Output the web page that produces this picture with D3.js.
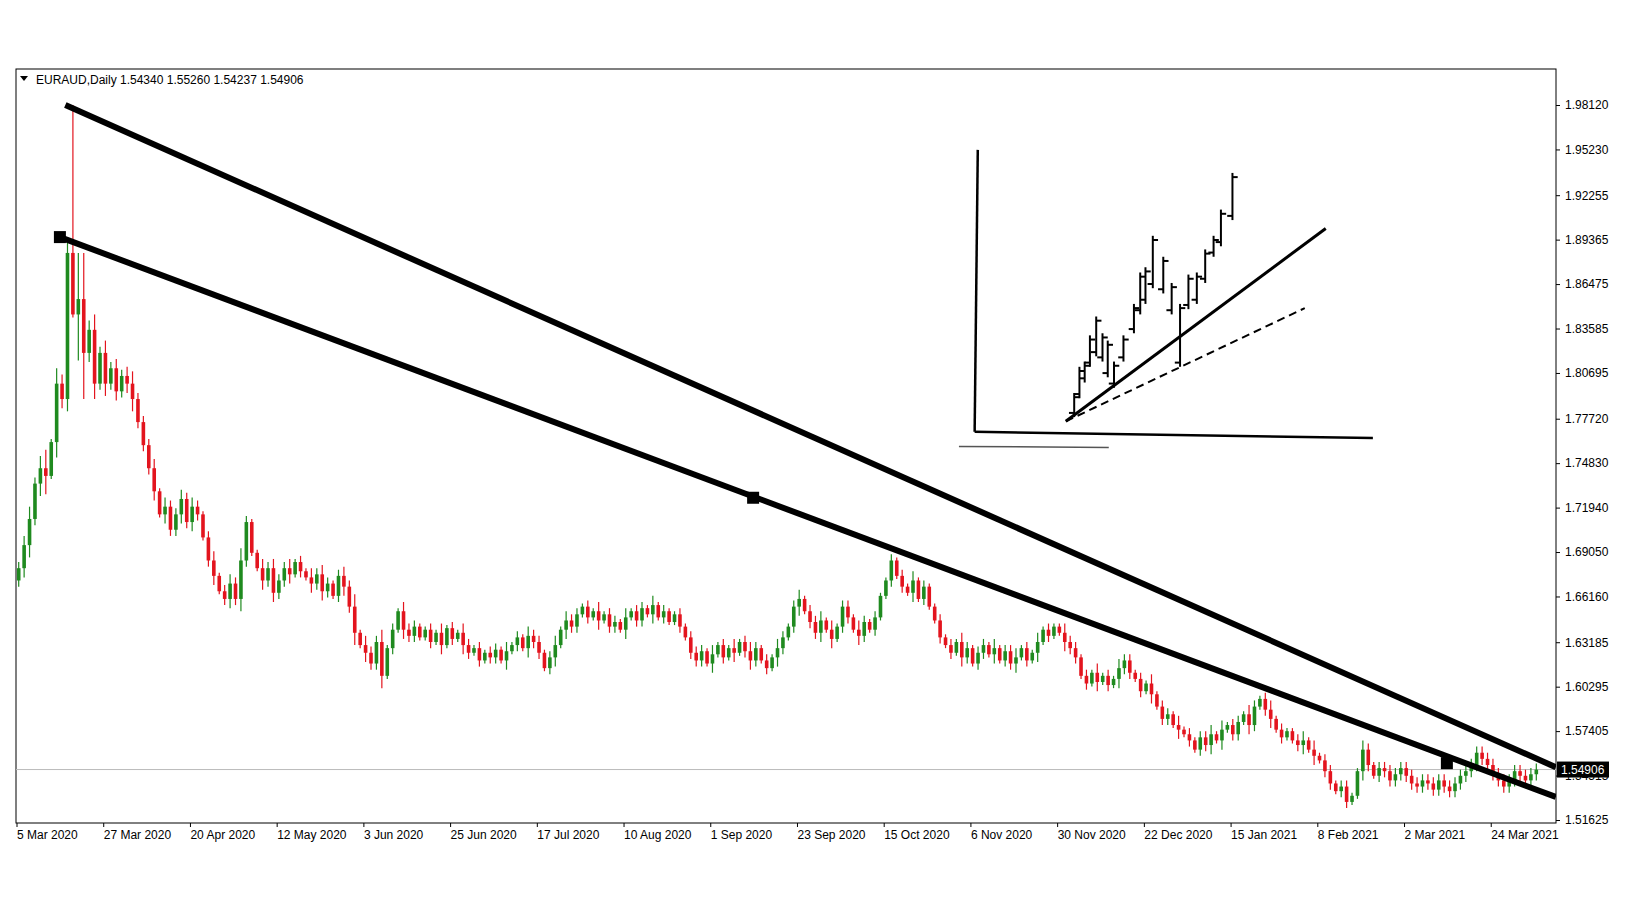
<!DOCTYPE html>
<html><head><meta charset="utf-8">
<script src="https://cdn.jsdelivr.net/npm/d3@7/dist/d3.min.js"></script>
<style>body{margin:0;background:#fff}text{font-family:"Liberation Sans",Arial,sans-serif}</style>
</head><body>
<script>
// daily closes EURAUD, 5 Mar 2020 .. Mar 2021
const closes = [1.680,1.695,1.712,1.735,1.745,1.740,1.762,1.800,1.790,1.885,1.845,1.855,1.820,1.835,1.800,1.820,
1.800,1.810,1.795,1.805,1.800,1.790,1.775,1.760,1.745,1.730,1.715,1.720,1.705,1.715,1.725,1.710,
1.720,1.715,1.700,1.685,1.675,1.665,1.660,1.670,1.660,1.685,1.710,1.690,1.680,1.672,1.680,1.664,
1.672,1.680,1.676,1.684,1.678,1.674,1.670,1.676,1.665,1.670,1.662,1.675,1.668,1.655,1.638,1.630,
1.625,1.618,1.632,1.610,1.628,1.640,1.652,1.640,1.636,1.642,1.635,1.640,1.632,1.638,1.630,1.641,
1.634,1.638,1.630,1.625,1.628,1.620,1.625,1.622,1.627,1.620,1.626,1.630,1.635,1.628,1.636,1.632,
1.625,1.615,1.622,1.630,1.640,1.646,1.642,1.650,1.655,1.648,1.652,1.646,1.650,1.642,1.645,1.640,
1.648,1.652,1.646,1.654,1.650,1.656,1.648,1.652,1.645,1.650,1.642,1.635,1.625,1.620,1.626,1.618,
1.624,1.630,1.622,1.628,1.625,1.632,1.626,1.620,1.628,1.620,1.615,1.622,1.628,1.635,1.642,1.655,
1.660,1.652,1.645,1.638,1.646,1.640,1.634,1.642,1.655,1.648,1.640,1.636,1.645,1.640,1.648,1.662,
1.672,1.685,1.675,1.668,1.664,1.672,1.660,1.668,1.655,1.646,1.635,1.630,1.625,1.632,1.622,1.628,
1.618,1.625,1.630,1.624,1.628,1.620,1.626,1.618,1.622,1.628,1.620,1.625,1.632,1.640,1.636,1.642,
1.638,1.632,1.628,1.622,1.610,1.605,1.612,1.606,1.610,1.604,1.608,1.615,1.620,1.612,1.608,1.600,
1.605,1.598,1.590,1.582,1.585,1.578,1.575,1.572,1.568,1.562,1.570,1.565,1.572,1.568,1.575,1.578,
1.572,1.580,1.585,1.578,1.590,1.595,1.588,1.582,1.575,1.570,1.574,1.568,1.565,1.568,1.562,1.558,
1.555,1.548,1.540,1.535,1.538,1.528,1.532,1.548,1.562,1.552,1.545,1.550,1.548,1.542,1.546,1.550,
1.545,1.540,1.538,1.542,1.540,1.536,1.542,1.538,1.535,1.540,1.545,1.548,1.552,1.560,1.556,1.552,
1.546,1.542,1.538,1.542,1.548,1.545,1.542,1.546,1.549];
const firstOpen = 1.672;
// wick extension per bar, in units of 0.002
const wicks = "23424615341ff3524232342223132232321231232421132322312132321232413224121322112131213212122131213221231322121312213122131211212221312131232121321231223131221321211212131211212132122131223121312113221213121322121312213121223131221321231211231312212211321";
const specialHigh = {10: 1.9812};
const dateLabels = ["5 Mar 2020","27 Mar 2020","20 Apr 2020","12 May 2020","3 Jun 2020","25 Jun 2020","17 Jul 2020","10 Aug 2020","1 Sep 2020","23 Sep 2020","15 Oct 2020","6 Nov 2020","30 Nov 2020","22 Dec 2020","15 Jan 2021","8 Feb 2021","2 Mar 2021","24 Mar 2021"];
const priceTicks = [1.98120,1.95230,1.92255,1.89365,1.86475,1.83585,1.80695,1.77720,1.74830,1.71940,1.69050,1.66160,1.63185,1.60295,1.57405,1.54515,1.51625];
// trend lines [barIndex, price]
const upperLine = [[8.6,1.9812],[283.6,1.5506]];
const lowerLine = [[7.6,1.8953],[283.6,1.5312]];
const lineAnchors = [[7.6,1.8953],[135.5,1.7258],[263.5,1.5532]];
// inset sketch (own pixel-like coordinates): [x, high, low]
const insetBars = [[1025,375,398],[1030,350,380],[1035,345,365],[1040,320,350],[1046,302,340],[1052,318,345],[1057,325,360],[1063,345,370],[1072,320,345],[1082,290,318],[1088,260,300],[1093,255,290],[1100,225,275],[1110,245,280],[1118,270,300],[1126,290,350],[1134,262,295],[1142,260,290],[1150,238,270],[1158,225,245],[1165,200,235],[1176,165,210]];

const W = 1643, H = 924;
const L = 16, R = 1556, T = 69, B = 823, step = 5.42;
const svg = d3.select("body").append("svg").attr("width", W).attr("height", H);

const x = d3.scaleLinear().domain([0, 1]).range([L + step/2, L + step*1.5]);
const y = d3.scaleLinear().domain([1.51625, 1.98120]).range([820, 105]);

const bars = closes.map((c, i) => {
  const o = i === 0 ? firstOpen : closes[i-1];
  const w = parseInt(wicks[i] || "2", 16) * 0.002;
  return {i, o, c, h: specialHigh[i] || Math.max(o, c) + w, l: Math.min(o, c) - w};
});

svg.append("rect").attr("x", L).attr("y", T).attr("width", R - L).attr("height", B - T)
   .attr("fill", "none").attr("stroke", "#000");

// last price line
svg.append("line").attr("x1", L).attr("x2", R).attr("y1", y(1.54906)).attr("y2", y(1.54906))
   .attr("stroke", "#bbb");

const g = svg.append("g").attr("clip-path", "url(#clip)");
svg.append("clipPath").attr("id", "clip").append("rect").attr("x", L).attr("y", T).attr("width", R-L).attr("height", B-T);
const col = d => d.c >= d.o ? "#1f8a1f" : "#e3141e";
g.selectAll(".wick").data(bars).enter().append("line")
  .attr("x1", d => x(d.i)).attr("x2", d => x(d.i))
  .attr("y1", d => y(d.h)).attr("y2", d => y(d.l)).attr("stroke", col).attr("stroke-width", 1.2);
g.selectAll(".body").data(bars).enter().append("rect")
  .attr("x", d => x(d.i) - 1.8).attr("width", 3.6)
  .attr("y", d => y(Math.max(d.o, d.c))).attr("height", d => Math.max(1, Math.abs(y(d.o) - y(d.c))))
  .attr("fill", col);

// trend lines
const ln = d3.line().x(d => x(d[0])).y(d => y(d[1]));
[upperLine, lowerLine].forEach(p => g.append("path").attr("d", ln(p)).attr("stroke", "#000")
  .attr("stroke-width", 6).attr("fill", "none"));
svg.selectAll(".anchor").data(lineAnchors).enter().append("rect")
  .attr("x", d => x(d[0]) - 6).attr("y", d => y(d[1]) - 6).attr("width", 12).attr("height", 12).attr("fill", "#000");

// right axis
const ya = d3.axisRight(y).tickValues(priceTicks).tickFormat(d3.format(".5f")).tickSize(4);
svg.append("g").attr("transform", `translate(${R},0)`).call(ya)
  .call(a => a.select(".domain").remove())
  .call(a => a.selectAll("text").attr("font-size", 12).attr("fill", "#000").attr("dx", 2));
const pl = svg.append("g").attr("transform", `translate(${R},${y(1.54906)})`);
pl.append("rect").attr("x", 1).attr("y", -8).attr("width", 52).attr("height", 16).attr("fill", "#000");
pl.append("text").attr("x", 5).attr("y", 4.5).attr("font-size", 12).attr("fill", "#fff").text("1.54906");

// date axis
svg.append("g").selectAll("g").data(dateLabels).enter().append("g").each(function(d, k) {
  const px = L + k * 16 * step + 1;
  d3.select(this).append("line").attr("x1", px).attr("x2", px).attr("y1", B).attr("y2", B + 4).attr("stroke", "#000");
  d3.select(this).append("text").attr("x", px).attr("y", B + 16).attr("font-size", 12).text(d);
});

// title
svg.append("path").attr("d", `M20,76 L28,76 L24,81 Z`).attr("fill", "#000");
svg.append("text").attr("x", 36).attr("y", 84).attr("font-size", 12)
   .text("EURAUD,Daily  1.54340 1.55260 1.54237 1.54906");

// inset sketch
const s = d3.scaleLinear().domain([0, 1]).range([0, 1.048]);
const ig = svg.append("g");
const seg = (a, b, c, d, w, dash, colr) => ig.append("line").attr("x1", s(a)).attr("y1", s(b)).attr("x2", s(c)).attr("y2", s(d))
  .attr("stroke", colr || "#000").attr("stroke-width", w).attr("stroke-dasharray", dash || null);
seg(933, 143, 930, 412, 2.5);
seg(930, 412, 1310, 418, 2.5);
seg(915, 426, 1058, 427, 1.5, null, "#555");
seg(1017, 402, 1265, 218, 3);
seg(1017, 402, 1245, 294, 2, "8,5");
insetBars.forEach((b, k) => {
  seg(b[0], b[1], b[0], b[2], 2);
  seg(b[0] - 5, b[2] - 4, b[0], b[2] - 4, 2);
  seg(b[0], b[1] + 4, b[0] + 5, b[1] + 4, 2);
});
</script>
</body></html>
